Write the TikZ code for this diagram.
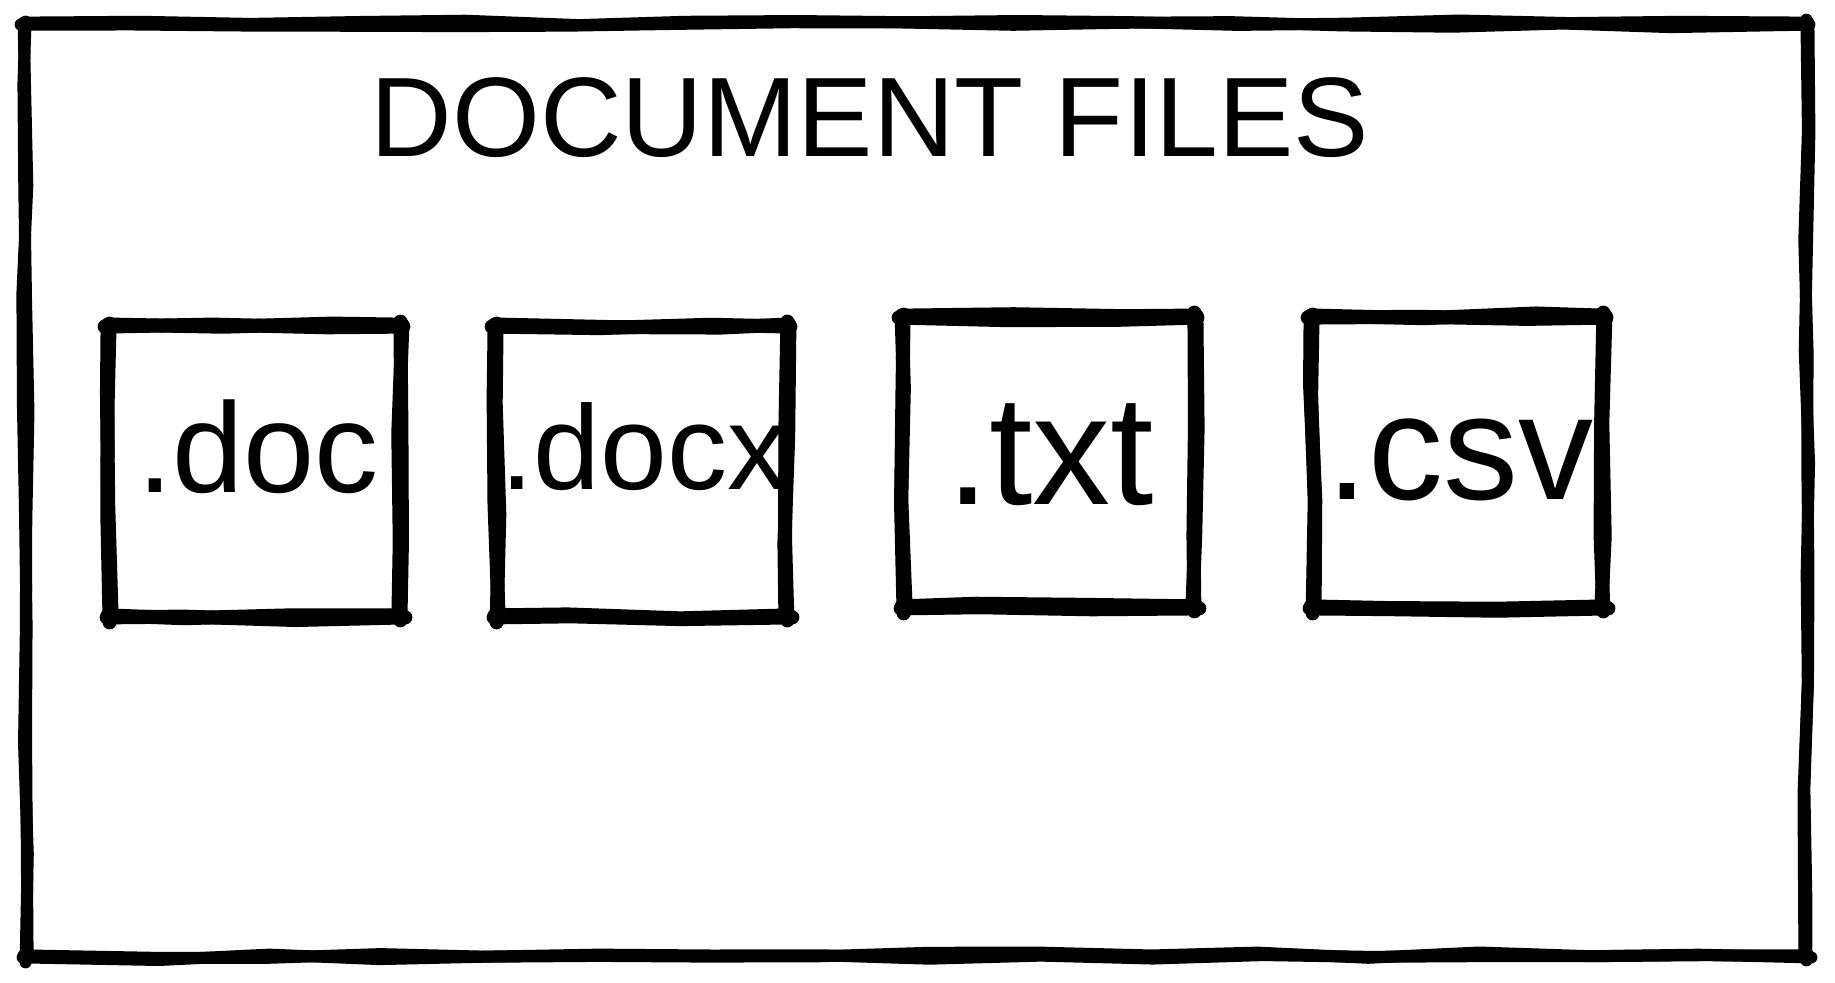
\documentclass[tikz,border=0pt]{standalone}
\usepackage{fontspec}
\setmainfont{Liberation Sans}
\usetikzlibrary{calc, decorations.pathmorphing}

\tikzset{
    sketch/.style={line width=#1, line cap=round, line join=round,
        decorate, decoration={random steps, segment length=55pt, amplitude=1.5pt}},
    sketch/.default=5pt,
    filebox/.style={minimum width=145pt, minimum height=145pt, inner sep=0pt},
    filelabel/.style={anchor=base, inner sep=0pt, font=\fontsize{#1}{#1}\selectfont},
}

% hand drawn outline of a node, every side twice
\newcommand{\sketchbox}[2]{%
    \foreach \s/\t in {north west/north east, north east/south east, south east/south west, south west/north west}{
        \draw[sketch=#2] ($(#1.\s)!-2.5pt!(#1.\t)$) -- ($(#1.\t)!-1.5pt!(#1.\s)$);
        \draw[sketch=#2] ([shift={(1pt,1pt)}]#1.\s) -- ([shift={(-1pt,1pt)}]#1.\t);
    }%
}

\begin{document}
\begin{tikzpicture}[x=0.5pt, y=-0.5pt]

    % Page, in pixels of the sketch (y down)
    \useasboundingbox (0,0) rectangle (1835,983);
    \pgfmathsetseed{11}

    % Frame and title
    \node[minimum width=890pt, minimum height=466pt, inner sep=0pt] (frame) at (916,491) {};
    \node[filelabel=56.5pt] (title) at (870,157) {DOCUMENT FILES};

    % File boxes
    \node[filebox] (doc)  at ( 255,472) {};
    \node[filebox] (docx) at ( 642,472) {};
    \node[filebox] (txt)  at (1049,463) {};
    \node[filebox] (csv)  at (1458,463) {};

    % Labels (baseline below the centre)
    \node[filelabel=64pt] (doclabel)  at ($(doc)+(3,21)$)  {.doc};
    \node[filelabel=60pt] (docxlabel) at ($(docx)+(2,18)$) {.docx};
    \node[filelabel=78pt] (txtlabel)  at ($(txt)+(1,41)$)  {.txt};
    \node[filelabel=75pt] (csvlabel)  at ($(csv)+(2,37)$)  {.csv};

    % Outlines
    \sketchbox{frame}{6pt}
    \foreach \f in {doc, docx, txt, csv}{
        \sketchbox{\f}{7pt}
    }

\end{tikzpicture}
\end{document}
